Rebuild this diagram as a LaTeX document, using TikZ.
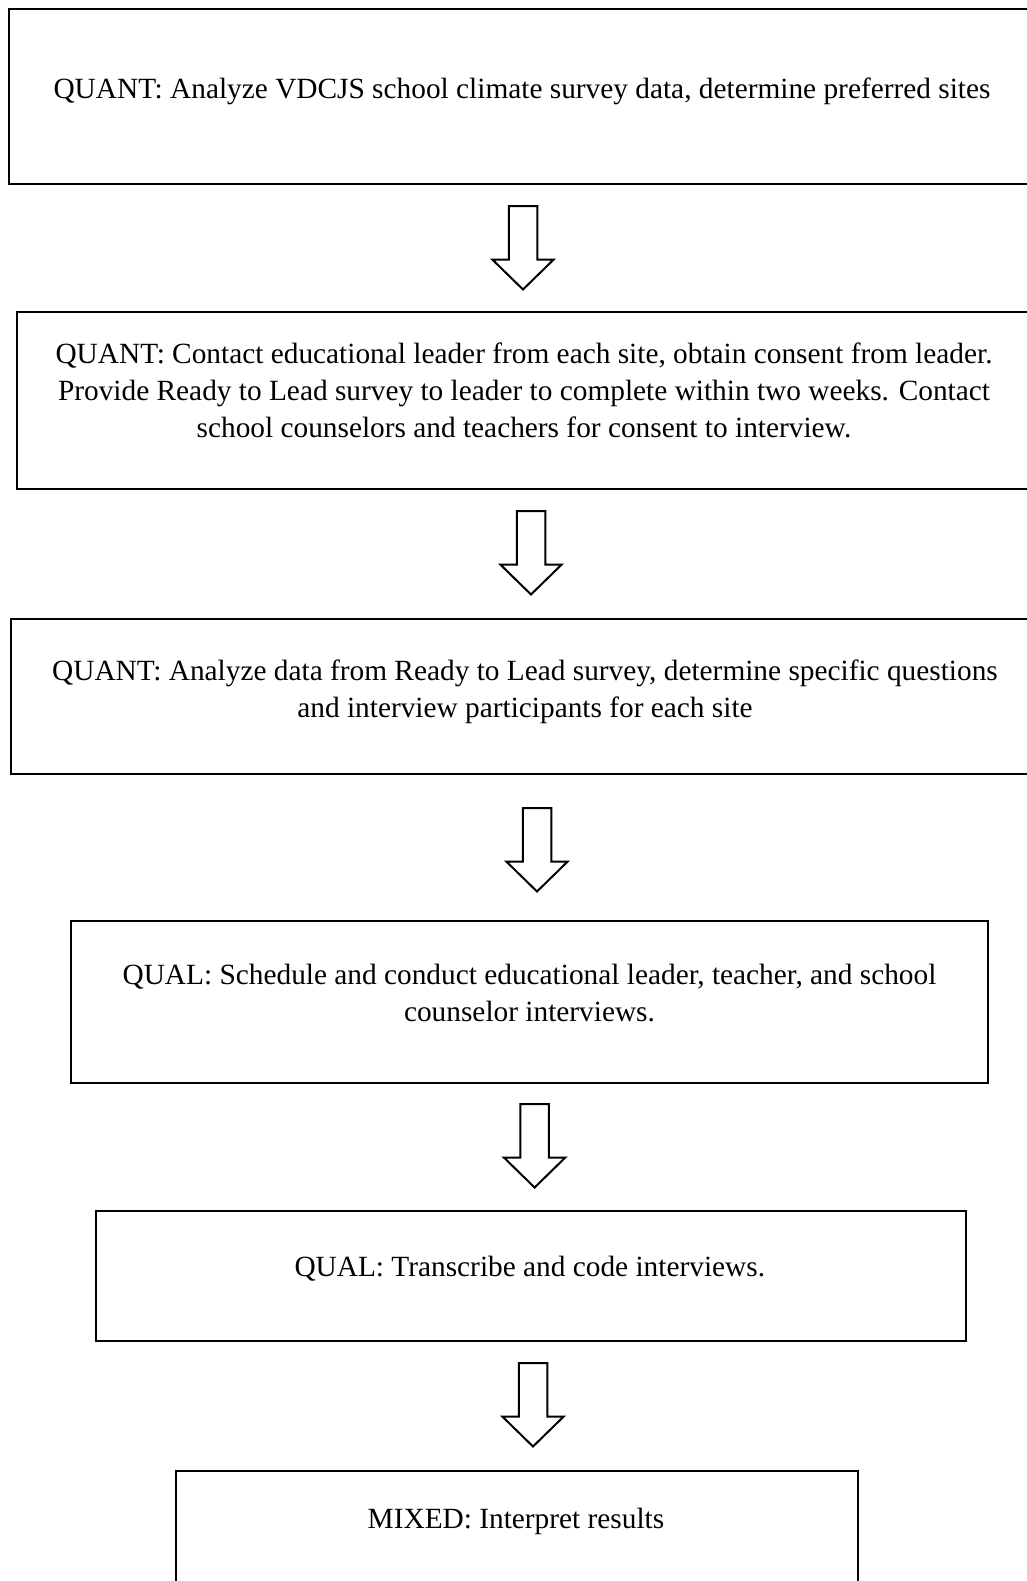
\documentclass[tikz,border=0pt]{standalone}
\usepackage{fontspec}
\setmainfont{Liberation Serif}
\begin{document}
\begin{tikzpicture}[x=0.75pt,y=-0.75pt,
  box/.style={draw=black, line width=1.5pt, rectangle, inner sep=0pt},
  txt/.style={anchor=north, inner sep=0pt, align=center, font=\fontsize{22}{27.75}\selectfont},
  arrowline/.style={draw=black, line width=1.5pt, line join=miter, fill=white},
  blockarrow/.pic={\path[arrowline] (-14.25,0) -- (14.25,0) -- (14.25,53.5) -- (30.7,53.5) -- (0,83.5) -- (-30.7,53.5) -- (-14.25,53.5) -- cycle;}
]
\useasboundingbox (0,0) rectangle (1027,1581);
\clip (0,0) rectangle (1027,1581);
\fill[white] (0,0) rectangle (1027,1581);

\node[box, minimum width=1026*0.75pt, minimum height=174.7*0.75pt] (b1) at (522,96.65) {};
\node[box, minimum width=1014*0.75pt, minimum height=177.3*0.75pt] (b2) at (524,400.35) {};
\node[box, minimum width=1028*0.75pt, minimum height=155*0.75pt] (b3) at (525,696.5) {};
\node[box, minimum width=917.3*0.75pt, minimum height=162*0.75pt] (b4) at (529.35,1001.7) {};
\node[box, minimum width=870.4*0.75pt, minimum height=130*0.75pt] (b5) at (530.8,1276) {};
\node[box, minimum width=682.5*0.75pt, minimum height=140*0.75pt] (b6) at (516.75,1541) {};

\node[txt] (t1) at (522,78) {QUANT: Analyze VDCJS school climate survey data, determine preferred sites};
\node[txt] (t2) at (524,343) {QUANT: Contact educational leader from each site, obtain consent from leader.\\Provide Ready to Lead survey to leader to complete within two weeks. Contact\\school counselors and teachers for consent to interview.};
\node[txt] (t3) at (525,660) {QUANT: Analyze data from Ready to Lead survey, determine specific questions\\and interview participants for each site};
\node[txt] (t4) at (529.5,964) {QUAL: Schedule and conduct educational leader, teacher, and school\\counselor interviews.};
\node[txt] (t5) at (529.8,1256) {QUAL: Transcribe and code interviews.};
\node[txt] (t6) at (516,1508) {MIXED: Interpret results};

\pic (a1) at (523,206) {blockarrow};
\pic (a2) at (531,511) {blockarrow};
\pic (a3) at (537,808) {blockarrow};
\pic (a4) at (534.6,1104) {blockarrow};
\pic (a5) at (533,1363) {blockarrow};
\end{tikzpicture}
\end{document}
